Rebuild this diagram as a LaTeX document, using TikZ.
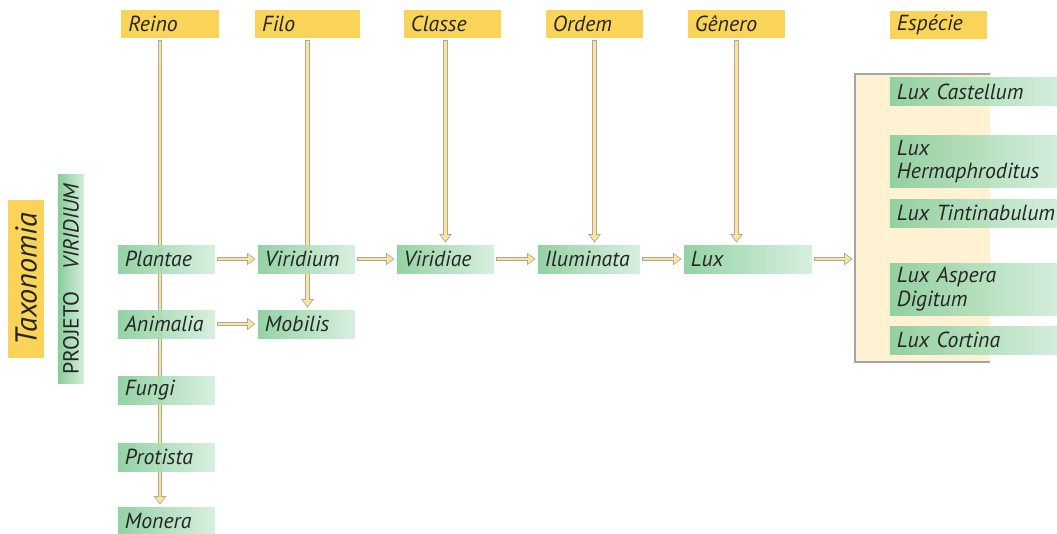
\documentclass[tikz,border=0pt]{standalone}
\usepackage{fontspec}
\setmainfont{PT Sans}
\usetikzlibrary{arrows.meta,backgrounds,calc}
\definecolor{headyellow}{RGB}{250,212,88}
\definecolor{taxongreen}{RGB}{136,205,155}
\definecolor{taxonlight}{RGB}{212,238,219}
\definecolor{flowfill}{RGB}{253,228,158}
\definecolor{flowline}{RGB}{172,168,155}
\definecolor{especiefill}{RGB}{255,242,210}
\definecolor{especieline}{RGB}{165,165,165}
\tikzset{
  head/.style={fill=headyellow, text width=2.08cm, inner xsep=5pt, inner ysep=1pt, minimum height=0.68cm, align=left, font=\itshape\fontsize{15.5}{17}\selectfont, text=black!85},
  taxon/.style={left color=taxongreen, middle color=taxongreen!75!taxonlight, right color=taxonlight, fill opacity=0.9, text opacity=1, text width=2.08cm, inner xsep=5pt, inner ysep=1pt, minimum height=0.7cm, align=left, font=\itshape\fontsize{15.5}{17}\selectfont, text=black!85},
  flow/.style={draw=flowfill, line width=2.1pt, shorten <=2pt, shorten >=2.5pt, -{Triangle[length=4.3pt,width=6.6pt,line width=0pt]},
    preaction={draw=flowline, line width=3.5pt, shorten <=1.3pt, shorten >=1.5pt, -{Triangle[length=6pt,width=9pt,line width=0pt]}}}
}
\begin{document}
\begin{tikzpicture}[x=0.025cm,y=-0.025cm]
            \clip (0,0) rectangle (1057,533);
            \node (reino) [head] at (170,24) {Reino};
            \node (filo) [head, text width=2.27cm] at (307.5,24) {Filo};
            \node (classe) [head] at (452.5,24) {Classe};
            \node (ordem) [head] at (594.5,24) {Ordem};
            \node (genero) [head] at (736.5,24) {Gênero};
            \node (especie) [head] at (938.5,25) {Espécie};
            \node (taxonomia) [rotate=90, fill=headyellow, minimum width=3.95cm, minimum height=0.9cm, font=\itshape\fontsize{21.5}{24}\selectfont, text=black!85] at (26,279) {Taxonomia};
            \node (projeto) [rotate=90, left color=taxongreen, right color=taxonlight, minimum width=5.2cm, minimum height=0.65cm, inner sep=0pt, font=\fontsize{15.5}{17}\selectfont, text=black!85] at (71,279) {PROJETO\quad\textit{VIRIDIUM}};
            \node (plantae) [taxon] at (166.5,259) {Plantae};
            \node (animalia) [taxon] at (166.5,324) {Animalia};
            \node (fungi) [taxon] at (166.5,390) {Fungi};
            \node (protista) [taxon] at (166.5,457) {Protista};
            \node (monera) [taxon] at (166.5,521) {Monera};
            \node (viridium) [taxon] at (306.5,259) {Viridium};
            \node (mobilis) [taxon] at (306.5,324) {Mobilis};
            \node (viridiae) [taxon] at (445.5,259) {Viridiae};
            \node (iluminata) [taxon, text width=2.2cm] at (589,259) {Iluminata};
            \node (lux) [taxon, text width=2.85cm] at (748,259) {Lux};
            \node (especies) [fill=especiefill, minimum width=3.375cm, minimum height=7.2cm] at (922.5,218) {};
            \draw[especieline, line width=1.5pt] (especies.north east) -- (especies.north west) -- (especies.south west) -- (especies.south east);
            \node (castellum) [taxon, text width=4.15cm] at (980,91.5) {Lux Castellum};
            \node (hermaphroditus) [taxon, text width=4.15cm, minimum height=1.28cm] at (980,161.5) {Lux\\Hermaphroditus};
            \node (tintinabulum) [taxon, text width=4.15cm] at (980,213) {Lux Tintinabulum};
            \node (aspera) [taxon, text width=4.15cm, minimum height=1.28cm] at (980,289.5) {Lux Aspera\\Digitum};
            \node (cortina) [taxon, text width=4.15cm] at (980,340) {Lux Cortina};
            \begin{scope}[on background layer]
            \draw[flow] ($(reino.south)+(-10,0)$) -- ($(reino.south |- monera.north)+(-10,0)$);
            \draw[flow] (filo.south) -- (filo.south |- mobilis.north);
            \draw[flow] (classe.south -| viridiae) -- (viridiae.north);
            \draw[flow] (ordem.south) -- (ordem.south |- iluminata.north);
            \draw[flow] (genero.south) -- (genero.south |- lux.north);
            \draw[flow] (plantae) -- (viridium);
            \draw[flow] (animalia) -- (mobilis);
            \draw[flow] (viridium) -- (viridiae);
            \draw[flow] (viridiae) -- (iluminata);
            \draw[flow] (iluminata) -- (lux);
            \draw[flow] (lux) -- (lux -| especies.west);
            \end{scope}
        \end{tikzpicture}
\end{document}
